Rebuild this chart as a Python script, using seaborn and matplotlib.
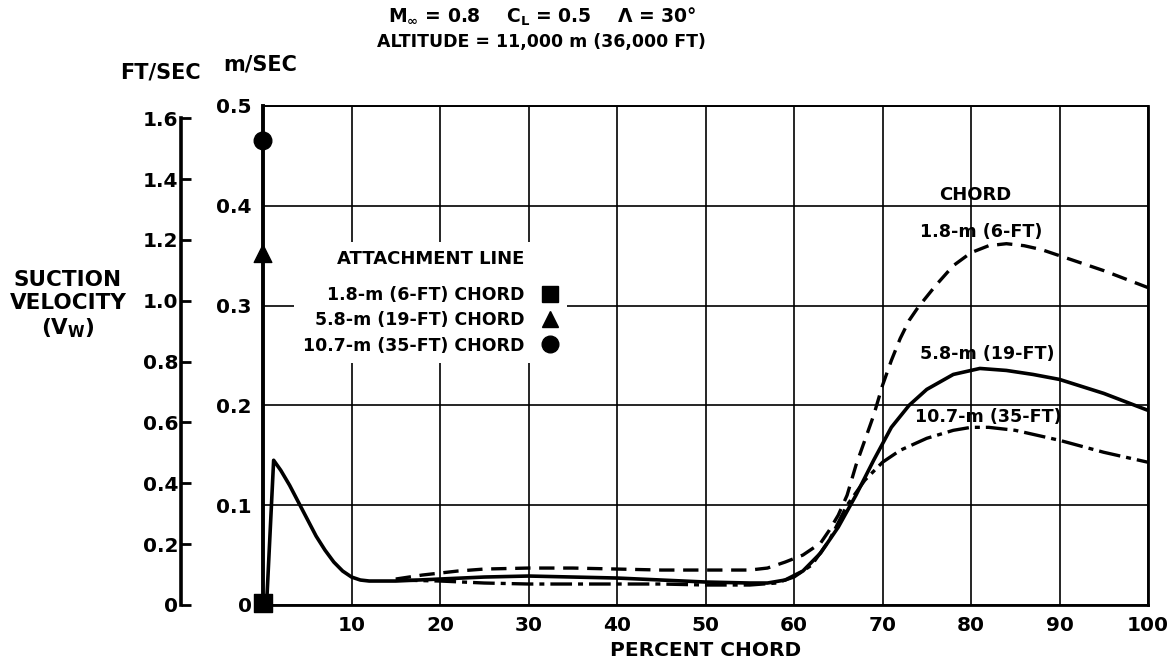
import numpy as np
import pandas as pd
import matplotlib
matplotlib.use("Agg")
import matplotlib.pyplot as plt
import seaborn as sns
from matplotlib.lines import Line2D

# ---------------- data (m/s vs percent chord) ----------------
x_58 = [0, 0.4, 1.2, 2, 3, 4, 5, 6, 7, 8, 9, 10, 11, 12, 15, 20, 25, 30, 35, 40, 45,
        50, 55, 57, 59, 61, 63, 65, 67, 69, 71, 73, 75, 78, 81, 84, 87, 90, 95, 100]
v_58 = [0, 0.0, 0.145, 0.135, 0.12, 0.103, 0.086, 0.069, 0.055, 0.043, 0.034, 0.028,
        0.025, 0.024, 0.024, 0.026, 0.028, 0.029, 0.028, 0.027, 0.025, 0.023, 0.022,
        0.022, 0.025, 0.034, 0.052, 0.078, 0.11, 0.145, 0.178, 0.2, 0.216, 0.231,
        0.237, 0.235, 0.231, 0.226, 0.212, 0.195]

x_18 = [15, 18, 22, 25, 30, 35, 40, 45, 50, 55, 57, 59, 61, 63, 64, 65, 66, 67, 68,
        69, 70, 71, 72, 73, 74, 76, 78, 80, 82, 84, 86, 88, 90, 95, 100]
v_18 = [0.026, 0.03, 0.034, 0.036, 0.037, 0.037, 0.036, 0.035, 0.035, 0.035, 0.037,
        0.043, 0.05, 0.062, 0.075, 0.09, 0.11, 0.14, 0.165, 0.19, 0.22, 0.245, 0.267,
        0.285, 0.298, 0.32, 0.34, 0.353, 0.36, 0.362, 0.36, 0.356, 0.35, 0.335, 0.318]

x_107 = [15, 20, 25, 30, 35, 40, 45, 50, 55, 58, 60, 62, 64, 66, 68, 70, 72, 75, 78,
         80, 82, 85, 90, 95, 100]
v_107 = [0.025, 0.024, 0.022, 0.021, 0.021, 0.021, 0.021, 0.02, 0.02, 0.022, 0.028,
         0.04, 0.065, 0.1, 0.125, 0.143, 0.155, 0.167, 0.175, 0.178, 0.178, 0.175,
         0.165, 0.153, 0.143]

att_chords = ["1.8-m (6-FT) CHORD", "5.8-m (19-FT) CHORD", "10.7-m (35-FT) CHORD"]
att_x = [0, 0, 0]
att_v = [0.002, 0.352, 0.465]

x_ticks = [10, 20, 30, 40, 50, 60, 70, 80, 90, 100]
y_ticks_m = [0, 0.1, 0.2, 0.3, 0.4, 0.5]
y_labels_m = ["0", "0.1", "0.2", "0.3", "0.4", "0.5"]
y_ticks_ft = [0, 0.2, 0.4, 0.6, 0.8, 1.0, 1.2, 1.4, 1.6]
y_labels_ft = ["0", "0.2", "0.4", "0.6", "0.8", "1.0", "1.2", "1.4", "1.6"]

# ---------------- style ----------------
sns.set_theme(style="white")
plt.rcParams["font.family"] = ["DejaVu Sans"]
plt.rcParams["font.weight"] = "bold"
plt.rcParams["mathtext.default"] = "bf"
plt.rcParams["text.color"] = "black"
plt.rcParams["axes.labelcolor"] = "black"

fig = plt.figure(figsize=(11.7, 6.69), dpi=100)
ax = fig.add_axes([0.2248, 0.0957, 0.7564, 0.7459])

ax.set_xlim(0, 100)
ax.set_ylim(0, 0.5)
ax.set_xticks(x_ticks)
ax.set_xticklabels([str(t) for t in x_ticks])
ax.set_yticks(y_ticks_m)
ax.set_yticklabels(y_labels_m)
ax.grid(True, color="black", lw=1.2)
ax.tick_params(length=0, pad=8, labelsize=14.5, labelcolor="black")
for side, w in [("left", 2.8), ("bottom", 2.0), ("top", 1.4), ("right", 2.0)]:
    ax.spines[side].set_visible(True)
    ax.spines[side].set_color("black")
    ax.spines[side].set_linewidth(w)

# curves
sns.lineplot(x=x_18, y=v_18, ax=ax, color="black", lw=2.4,
             linestyle=(0, (4.6, 2.6)), sort=False, zorder=4)
sns.lineplot(x=x_58, y=v_58, ax=ax, color="black", lw=2.6, sort=False, zorder=4)
sns.lineplot(x=x_107, y=v_107, ax=ax, color="black", lw=2.4,
             linestyle=(0, (6.5, 1.8, 1.5, 1.8)), sort=False, zorder=4)

# attachment line markers
att_df = pd.DataFrame({"x": att_x, "v": att_v, "chord": att_chords})
mk = {att_chords[0]: "s", att_chords[1]: "^", att_chords[2]: "o"}
sns.scatterplot(data=att_df, x="x", y="v", style="chord", markers=mk, s=160,
                color="black", edgecolor="black", legend=False, ax=ax,
                clip_on=False, zorder=6)

ax.set_xlabel("PERCENT CHORD", fontsize=14.5, fontweight="bold", labelpad=4,
              color="black")
ax.set_ylabel("")

# legend
handles = [Line2D([], [], ls="none", marker=mk[c], color="black", markersize=12)
           for c in att_chords]
leg = ax.legend(handles, att_chords, title="ATTACHMENT LINE\n", markerfirst=False,
                loc="upper left", bbox_to_anchor=(0.035, 0.728), frameon=True,
                facecolor="white", edgecolor="none", framealpha=1, fontsize=12.5,
                title_fontsize=13, handlelength=1.0, handletextpad=1.0,
                labelspacing=0.42, borderpad=0.5, borderaxespad=0)
leg.get_title().set_fontweight("bold")
leg.get_title().set_linespacing(0.45)
leg.set_zorder(5)

# secondary FT/SEC axis
sec = ax.secondary_yaxis("left", functions=(lambda m: m / 0.3048, lambda f: f * 0.3048))
sec.spines["left"].set_position(("outward", 59))
sec.spines["left"].set_linewidth(2.6)
sec.spines["left"].set_color("black")
sec.set_yticks(y_ticks_ft)
sec.set_yticklabels(y_labels_ft)
sec.tick_params(direction="in", length=7, width=2, labelsize=14.5, pad=2,
                color="black", labelcolor="black")
sec.spines["left"].set_bounds(0, 1.6)

# curve labels
ax.text(80.5, 0.411, "CHORD", fontsize=13, ha="center", va="center")
ax.text(81.2, 0.374, "1.8-m (6-FT)", fontsize=12.6, ha="center", va="center")
ax.text(81.8, 0.251, "5.8-m (19-FT)", fontsize=12.6, ha="center", va="center")
ax.text(81.9, 0.188, "10.7-m (35-FT)", fontsize=12.6, ha="center", va="center")

# unit labels and y title
fig.text(160 / 1170, 1 - 72 / 669, "FT/SEC", fontsize=15, ha="center", va="center")
fig.text(260 / 1170, 1 - 65 / 669, "m/SEC", fontsize=15, ha="center", va="center")
fig.text(68 / 1170, 1 - 305 / 669, "SUCTION\nVELOCITY\n(V$_{W}$)", fontsize=15.5,
         ha="center", va="center", linespacing=1.2)

# title
fig.text(542 / 1170, 1 - 17 / 669,
         r"M$_{\infty}$ = 0.8    C$_{L}$ = 0.5    Λ = 30°",
         fontsize=13.5, ha="center", va="center")
fig.text(541 / 1170, 1 - 42 / 669, "ALTITUDE = 11,000 m (36,000 FT)",
         fontsize=12.5, ha="center", va="center")

fig.savefig("out.png", dpi=100)
